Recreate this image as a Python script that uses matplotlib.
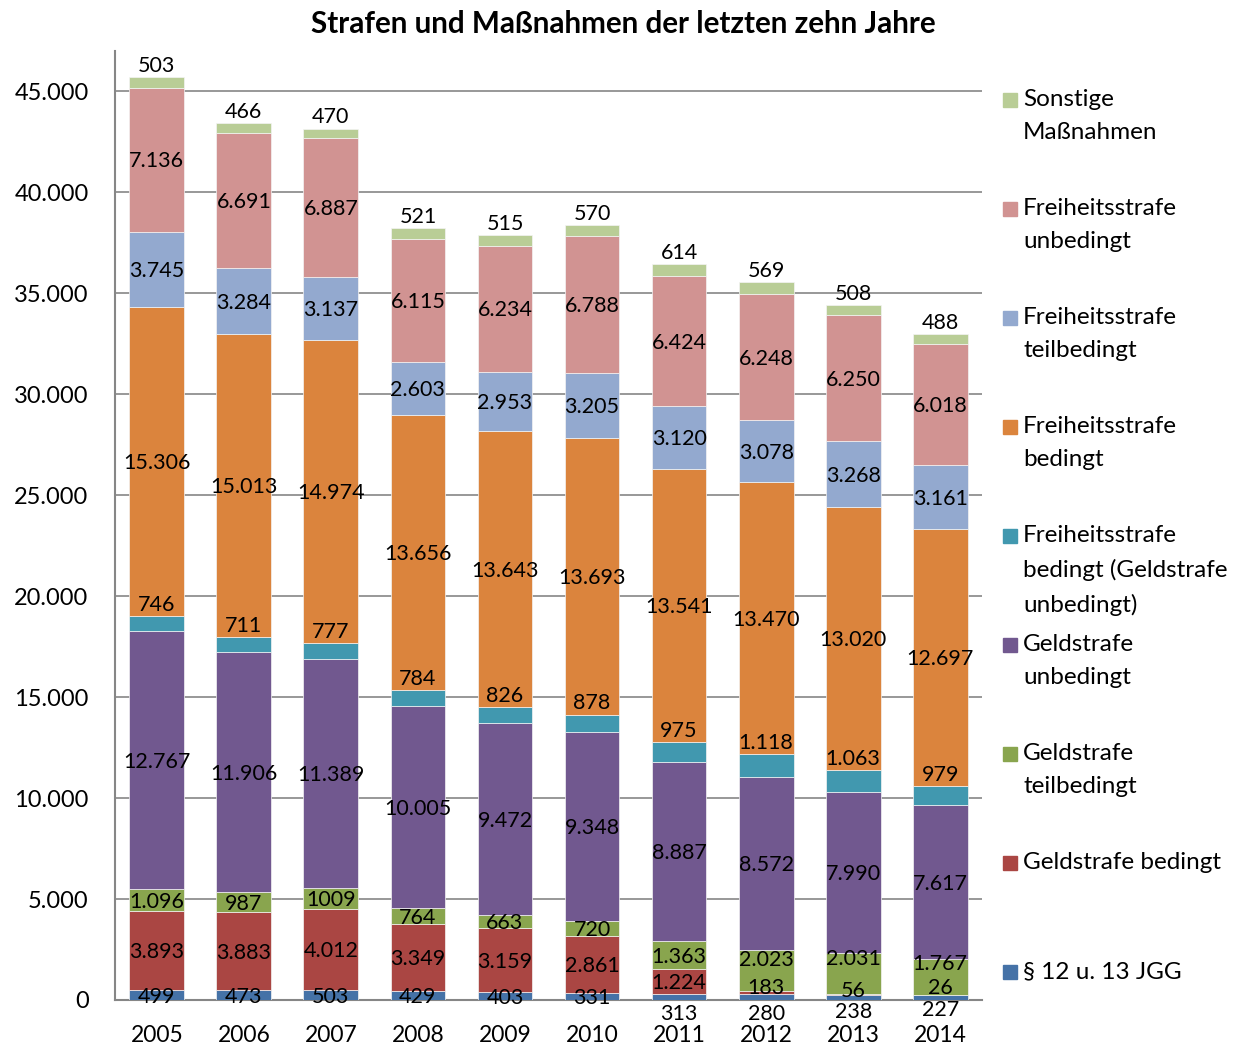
import numpy as np
import matplotlib
matplotlib.use("Agg")
import matplotlib.pyplot as plt
from matplotlib.patches import Rectangle

plt.rcParams['font.family'] = ['Lato', 'DejaVu Sans']

years = ['2005', '2006', '2007', '2008', '2009', '2010', '2011', '2012', '2013', '2014']

# bottom to top
jgg = [499, 473, 503, 429, 403, 331, 313, 280, 238, 227]
geld_bedingt = [3893, 3883, 4012, 3349, 3159, 2861, 1224, 183, 56, 26]
geld_teilbedingt = [1096, 987, 1009, 764, 663, 720, 1363, 2023, 2031, 1767]
geld_unbedingt = [12767, 11906, 11389, 10005, 9472, 9348, 8887, 8572, 7990, 7617]
fs_bedingt_geld = [746, 711, 777, 784, 826, 878, 975, 1118, 1063, 979]
fs_bedingt = [15306, 15013, 14974, 13656, 13643, 13693, 13541, 13470, 13020, 12697]
fs_teilbedingt = [3745, 3284, 3137, 2603, 2953, 3205, 3120, 3078, 3268, 3161]
fs_unbedingt = [7136, 6691, 6887, 6115, 6234, 6788, 6424, 6248, 6250, 6018]
sonstige = [503, 466, 470, 521, 515, 570, 614, 569, 508, 488]

series = [jgg, geld_bedingt, geld_teilbedingt, geld_unbedingt, fs_bedingt_geld,
          fs_bedingt, fs_teilbedingt, fs_unbedingt, sonstige]
names = ['§ 12 u. 13 JGG', 'Geldstrafe bedingt', 'Geldstrafe\nteilbedingt',
         'Geldstrafe\nunbedingt', 'Freiheitsstrafe\nbedingt (Geldstrafe\nunbedingt)',
         'Freiheitsstrafe\nbedingt', 'Freiheitsstrafe\nteilbedingt',
         'Freiheitsstrafe\nunbedingt', 'Sonstige\nMaßnahmen']
colors = ['#4572A7', '#AA4643', '#89A54E', '#71588F', '#4198AF',
          '#DB843D', '#93A9CF', '#D19392', '#B9CD96']

# label nudges (data units) for crowded small segments
nudge = {(0, 6): -750, (0, 7): -750, (0, 8): -650, (0, 9): -550,
         (1, 7): 300, (1, 8): 250, (1, 9): 450,
         (2, 7): 600, (2, 8): 780, (2, 9): 750}


def fmt(v):
    return f"{v:,}".replace(",", ".")


fig = plt.figure(figsize=(12.41, 10.46), dpi=100)
W, H = 1241, 1046
ax = fig.add_axes([115 / W, 1 - 1000 / H, (982 - 115) / W, (1000 - 51) / H])

x = np.arange(len(years))
bottom = np.zeros(len(years))
for i, (vals, c) in enumerate(zip(series, colors)):
    vals = np.array(vals, dtype=float)
    ax.bar(x, vals, bottom=bottom, width=0.63, color=c, edgecolor='#f4f4f4',
           linewidth=0.5, zorder=3)
    for j in range(len(years)):
        txt = fmt(int(vals[j]))
        if i == 2 and j == 2:
            txt = '1009'
        if i == 4 or i == 8:
            y = bottom[j] + vals[j] + 550
        else:
            y = bottom[j] + vals[j] / 2 + nudge.get((i, j), 0) - 80
        ax.text(x[j], y, txt, ha='center', va='center', fontsize=15.5, color='black',
                zorder=5)
    bottom += vals

ax.set_xlim(-0.48, 9.48)
ax.set_ylim(0, 47000)
ax.set_yticks(np.arange(0, 45001, 5000))
ax.set_yticklabels([fmt(v) for v in range(0, 45001, 5000)], fontsize=17)
ax.set_xticks(x)
ax.set_xticklabels(years, fontsize=16.5)
ax.tick_params(axis='y', length=0, pad=19)
ax.tick_params(axis='x', length=0, pad=18)
ax.grid(axis='y', color='#868686', linewidth=1.2, zorder=0)
for s in ['top', 'right']:
    ax.spines[s].set_visible(False)
for s in ['left', 'bottom']:
    ax.spines[s].set_color('#868686')
    ax.spines[s].set_linewidth(1.5)

fig.text(623 / W, 1 - 24 / H, 'Strafen und Maßnahmen der letzten zehn Jahre',
         ha='center', va='center', fontsize=21.3, fontweight='bold')

# legend, top entry first
for k in range(9):
    idx = 8 - k
    cy = 100 + 109 * k
    fig.patches.append(Rectangle((1003 / W, 1 - (cy + 7) / H), 14 / W, 14 / H,
                                 transform=fig.transFigure, color=colors[idx]))
    fig.text(1023 / W, 1 - (cy - 11) / H, names[idx], ha='left', va='top',
             fontsize=17.5, linespacing=1.72)

fig.savefig('out.png', dpi=100)
